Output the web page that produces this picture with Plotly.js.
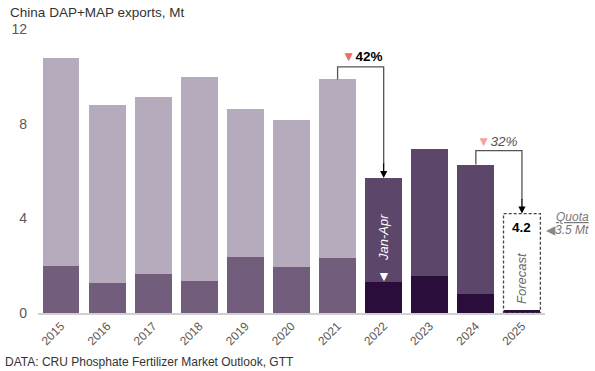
<!DOCTYPE html>
<html><head><meta charset="utf-8">
<script src="https://cdn.plot.ly/plotly-3.0.1.min.js"></script>
<style>html,body{margin:0;padding:0;background:#fff}#chart{width:595px;height:371px}</style>
</head><body><div id="chart"></div>
<script>
// Data (Mt)
const years = ['2015','2016','2017','2018','2019','2020','2021','2022','2023','2024','2025'];
const totals = [10.77, 8.8, 9.13, 9.96, 8.63, 8.17, 9.87, 5.70, 6.94, 6.27, null];
const lowerPart = [2.0, 1.27, 1.66, 1.35, 2.38, 1.96, 2.31, 1.30, 1.58, 0.79, 0.12];
const forecast2025 = 4.2;
const quota2025 = 3.5;
const drop2122 = '42%';
const drop2425 = '32%';
const yTicks = [0, 4, 8, 12];

const upperPart = totals.map((t, i) => t == null ? null : +(t - lowerPart[i]).toFixed(2));
const isNew = years.map(y => +y >= 2022);
const lowerColors = isNew.map(n => n ? '#2b0d3b' : '#725e7c');
const upperColors = isNew.map(n => n ? '#5c4669' : '#b6abbc');

const traces = [
  {type:'bar', x: years, y: lowerPart, marker:{color: lowerColors}, hoverinfo:'skip'},
  {type:'bar', x: years, y: upperPart, marker:{color: upperColors}, hoverinfo:'skip'}
];

const i21 = years.indexOf('2021'), i22 = years.indexOf('2022'), i24 = years.indexOf('2024'), i25 = years.indexOf('2025');
const lvl1 = 10.4, lvl2 = 6.86;
const lineStyle = {color:'#555', width:1.3};

const shapes = [
  {type:'path', xref:'x', yref:'y', path:`M ${i21} ${totals[i21]} L ${i21} ${lvl1} L ${i22} ${lvl1} L ${i22} ${totals[i22]+0.6}`, line: lineStyle},
  {type:'path', xref:'x', yref:'y', path:`M ${i24} ${totals[i24]} L ${i24} ${lvl2} L ${i25} ${lvl2} L ${i25} ${forecast2025+0.6}`, line: lineStyle},
  {type:'rect', xref:'x', yref:'y', x0: i25-0.4, x1: i25+0.4, y0: 0, y1: forecast2025, line:{color:'#444', width:1.3, dash:'3px,2px'}}
];

const annotations = [
  {xref:'x', yref:'y', x: i22, y: totals[i22], ax: 0, ay: -16, showarrow:true, arrowhead:2, arrowsize:1.1, arrowwidth:1.3, arrowcolor:'#000', text:''},
  {xref:'x', yref:'y', x: i25, y: forecast2025, ax: 0, ay: -16, showarrow:true, arrowhead:2, arrowsize:1.1, arrowwidth:1.3, arrowcolor:'#000', text:''},
  {xref:'x', yref:'y', x: 6.53, y: 10.82, showarrow:false, text:'<span style="color:#ef6a62">▼</span><b>' + drop2122 + '</b>', font:{size:13.5, color:'#000'}},
  {xref:'x', yref:'y', x: 9.46, y: 7.24, showarrow:false, text:'<span style="color:#f6a19b">▼</span><i>' + drop2425 + '</i>', font:{size:13.5, color:'#555'}},
  {xref:'x', yref:'y', x: i22, y: 3.2, showarrow:false, textangle:-90, text:'<i>Jan-Apr</i>', font:{size:13, color:'#fff'}},
  {xref:'x', yref:'y', x: i22, y: 1.56, showarrow:false, text:'▼', font:{size:14, color:'#fff'}},
  {xref:'x', yref:'y', x: i25, y: 3.63, showarrow:false, text:'<b>' + forecast2025.toFixed(1) + '</b>', font:{size:13.5, color:'#000'}},
  {xref:'x', yref:'y', x: i25, y: 1.48, showarrow:false, textangle:-90, text:'<i>Forecast</i>', font:{size:13, color:'#666'}},
  {xref:'paper', yref:'y', x: 1.09, xanchor:'right', y: 4.06, showarrow:false, text:'<i><u>Quota</u></i>', font:{size:12, color:'#777'}},
  {xref:'paper', yref:'y', x: 1.09, xanchor:'right', y: quota2025, showarrow:false, text:'<span style="color:#888">◀</span><i>' + quota2025 + ' Mt</i>', font:{size:12, color:'#777'}},
  {xref:'paper', yref:'paper', x: -0.069, xanchor:'left', y: -0.1725, yanchor:'middle', showarrow:false, text:'DATA: CRU Phosphate Fertilizer Market Outlook, GTT', font:{size:12, color:'#333'}}
];

const layout = {
  width:595, height:371,
  margin:{l:38, r:50, t:29, b:58},
  paper_bgcolor:'#fff', plot_bgcolor:'#fff',
  font:{family:'"Liberation Sans", Arial, sans-serif', color:'#595959'},
  title:{text:'China DAP+MAP exports, Mt', xref:'container', x: 0.017, xanchor:'left', yref:'container', y: 0.968, yanchor:'middle', font:{size:13.5, color:'#333'}},
  barmode:'stack', bargap:0.2, showlegend:false,
  xaxis:{type:'category', tickangle:-45, tickfont:{size:12, color:'#595959'}, showline:true, linecolor:'#d0d0d0', linewidth:1.5, ticks:'', showgrid:false, fixedrange:true},
  yaxis:{range:[0,12], tickvals:yTicks, ticktext:yTicks.map(String), tickfont:{size:14, color:'#595959'}, showgrid:false, zeroline:false, showline:false, ticks:'', ticklabelstandoff:10, fixedrange:true},
  shapes: shapes,
  annotations: annotations
};

Plotly.newPlot('chart', traces, layout, {displayModeBar:false, staticPlot:true});
</script></body></html>
